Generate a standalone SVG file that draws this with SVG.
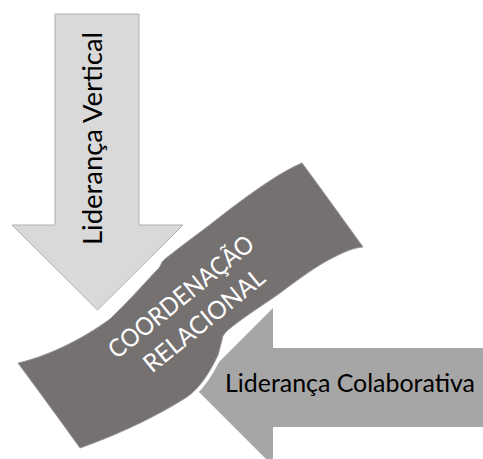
<svg xmlns="http://www.w3.org/2000/svg" width="483" height="459" viewBox="0 0 483 459">
  <style>
    .label { font-family: Lato, "Liberation Sans", sans-serif; }
    .dark { fill: #000000; font-size: 26.5px; }
    .wide { font-size: 25px; }
    .light { fill: #ffffff; font-size: 25px; text-anchor: middle; }
  </style>
  <defs>
    <path id="band" d="M 18,363
      C 45,357 80,341 110,319
      C 126,304 141,287 156,271
      L 159,268 Q 161,265 162,262 L 165,259
      C 185,243 205,229 225,213
      C 250,194 280,172 302,163
      C 322,190 342,218 363,247
      C 350,248 338,255 323,263
      C 300,277 285,290 270,300
      C 255,310 240,320 228,330
      L 225,333 Q 222,336 222,340 L 218,355
      C 210,372 200,388 187,397
      C 160,414 125,432 80,448
      C 60,420 38,390 18,363 Z"/>
  </defs>

  <!-- incoming arrow from the top -->
  <g id="lideranca-vertical">
    <path d="M 55,14 H 139 V 225 H 183 L 97.5,310 L 12,225 H 55 Z" fill="#d9d9d9" stroke="#b0b0b0" stroke-width="1"/>
    <text class="label dark" transform="translate(102,245) rotate(-90)" textLength="213" lengthAdjust="spacingAndGlyphs">Liderança Vertical</text>
  </g>

  <!-- incoming arrow from the right -->
  <g id="lideranca-colaborativa">
    <path d="M 490,348 H 273 V 308 L 194,387 L 273,466 V 427 H 490 Z" fill="#a6a6a6"/>
    <text class="label dark wide" x="225" y="392" textLength="250" lengthAdjust="spacingAndGlyphs">Liderança Colaborativa</text>
  </g>

  <!-- central band -->
  <g id="coordenacao-relacional">
    <use href="#band" fill="none" stroke="#ffffff" stroke-width="8" stroke-linejoin="round"/>
    <use href="#band" fill="#767171" stroke="#9a9696" stroke-width="1"/>
    <g transform="translate(192,308) rotate(-39)">
      <text class="label light" x="-1.5" y="-7" textLength="179" lengthAdjust="spacingAndGlyphs">COORDENAÇÃO</text>
      <text class="label light" x="1.5" y="26" textLength="148" lengthAdjust="spacingAndGlyphs">RELACIONAL</text>
    </g>
  </g>
</svg>
